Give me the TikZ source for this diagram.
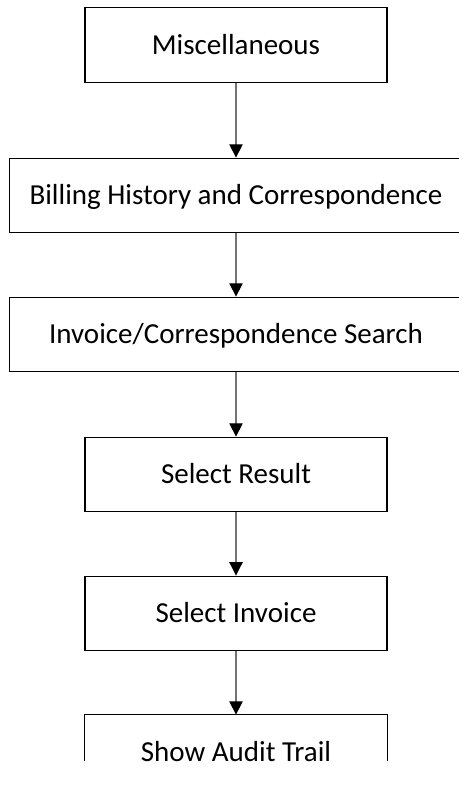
\documentclass[tikz,border=0pt]{standalone}
\usepackage{fontspec}
\setmainfont{Carlito}
\usetikzlibrary{arrows.meta}
\begin{document}
\begin{tikzpicture}[x=0.75pt,y=-0.75pt,
  box/.style={draw=black, line width=0.8pt, fill=white, minimum width=226.5pt, minimum height=56pt, inner sep=0pt, font=\fontsize{21.75}{26}\selectfont, text height=14pt, text depth=0pt, align=center},
  widebox/.style={box, minimum width=339.75pt},
  conn/.style={draw=black!55, line width=0.8pt, -{Triangle[width=10pt,length=10pt,color=black]}}]
\useasboundingbox (0,0) rectangle (458,787);
\node[box] (m) at (236,44.8) {Miscellaneous};
\node[widebox] (b) at (236,195.5) {Billing History and Correspondence};
\node[widebox] (s) at (236,334.5) {Invoice/Correspondence Search};
\node[box] (r) at (236,474.5) {Select Result};
\node[box] (i) at (236,613.4) {Select Invoice};
\node[box, draw=none, fill=none] (a) at (236,752.5) {Show Audit Trail};
\begin{scope}
\clip (0,0) rectangle (458,760);
\draw[black, line width=0.8pt] (a.north west) rectangle (a.south east);
\end{scope}
\draw[conn] (m) -- (b);
\draw[conn] (b) -- (s);
\draw[conn] (s) -- (r);
\draw[conn] (r) -- (i);
\draw[conn] (i) -- (a);
\end{tikzpicture}
\end{document}
